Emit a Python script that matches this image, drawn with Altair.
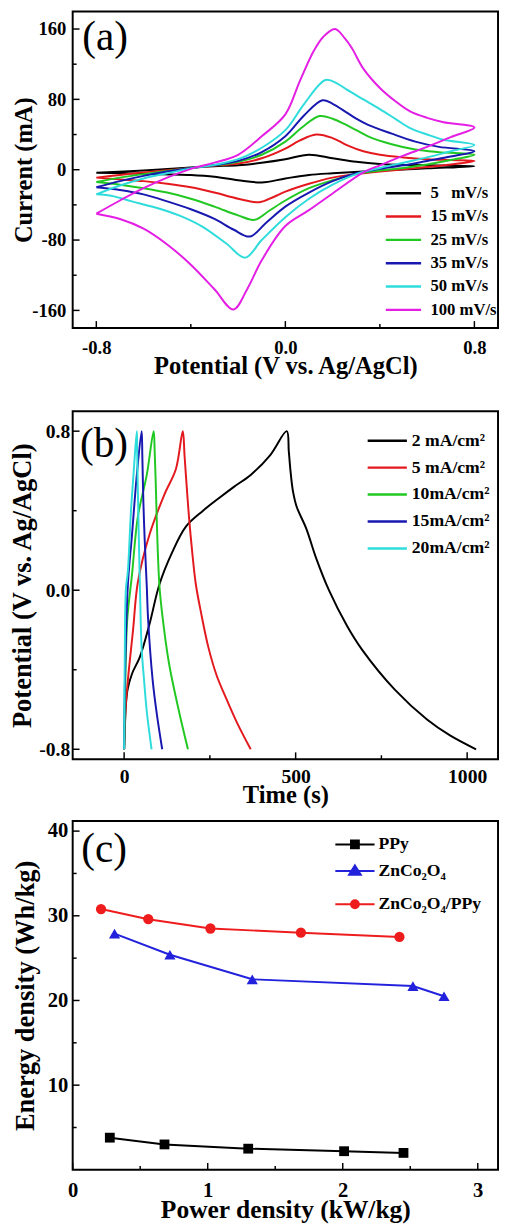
import altair as alt
import pandas as pd

FONT = "Liberation Serif"

# ---------------- panel (a): CV curves ----------------
cv_names = ["5\u2002 mV/s", "15 mV/s", "25 mV/s", "35 mV/s", "50 mV/s", "100 mV/s"]
cv_colors = ["#000000", "#e3191e", "#22c822", "#1818b0", "#2edcdc", "#e41ee4"]

cv5_v = [-0.8, -0.6, -0.4, -0.3, -0.2, -0.1, 0.0, 0.1, 0.2, 0.3, 0.4, 0.5, 0.6, 0.8,
         0.6, 0.4, 0.2, 0.1, 0.0, -0.1, -0.2, -0.3, -0.4, -0.6, -0.8]
cv5_i = [-3.5, -1, 2.5, 4, 5, 8, 12, 17, 13, 9, 6.5, 5.5, 5, 4,
         1.5, -1, -4, -6, -10, -14.5, -12, -8, -6, -4.5, -3.5]

cv15_v = [-0.8, -0.7, -0.6, -0.5, -0.4, -0.3, -0.2, -0.1, 0.0, 0.06, 0.13, 0.2, 0.26, 0.33, 0.4, 0.5, 0.6, 0.7, 0.8,
          0.7, 0.6, 0.5, 0.4, 0.3, 0.2, 0.1, 0.0, -0.05, -0.11, -0.2, -0.3, -0.4, -0.5, -0.6, -0.7, -0.8]
cv15_i = [-9, -6, -3, -0.5, 2, 4.5, 7, 13, 24, 33, 40, 36, 28, 21, 17, 14, 12, 11, 10,
          6, 3, 0.5, -2, -5, -9, -16, -25, -31, -37, -33, -26, -20, -16, -13, -11, -9]

cv25_v = [-0.8, -0.7, -0.6, -0.5, -0.4, -0.3, -0.2, -0.1, 0.0, 0.07, 0.145, 0.2, 0.25, 0.3, 0.35, 0.45, 0.55, 0.65, 0.8,
          0.7, 0.6, 0.5, 0.4, 0.3, 0.2, 0.1, 0.0, -0.07, -0.13, -0.2, -0.3, -0.4, -0.5, -0.6, -0.7, -0.8]
cv25_i = [-14, -9, -5, -1.5, 2, 5, 9, 17, 32, 48, 61, 58, 52, 45, 38, 29, 23, 20, 17,
          11, 6, 2, -1, -5, -12, -21, -35, -47, -57, -52, -42, -33, -26, -21, -17, -14]

cv35_v = [-0.8, -0.7, -0.6, -0.5, -0.4, -0.3, -0.2, -0.1, 0.0, 0.08, 0.157, 0.2, 0.26, 0.3, 0.35, 0.45, 0.55, 0.65, 0.8,
          0.7, 0.6, 0.5, 0.4, 0.3, 0.2, 0.1, 0.0, -0.08, -0.15, -0.22, -0.3, -0.4, -0.5, -0.6, -0.7, -0.8]
cv35_i = [-20, -13, -7, -2, 2, 5, 10, 20, 38, 62, 79, 75, 65, 58, 51, 41, 32, 26, 21,
          15, 10, 5, 1, -4, -13, -26, -42, -60, -76, -68, -56, -45, -36, -28, -23, -20]

cv50_v = [-0.8, -0.7, -0.6, -0.5, -0.4, -0.3, -0.2, -0.1, 0.0, 0.08, 0.17, 0.22, 0.26, 0.33, 0.4, 0.47, 0.53, 0.6, 0.67, 0.8,
          0.7, 0.6, 0.5, 0.4, 0.3, 0.2, 0.1, 0.0, -0.1, -0.17, -0.25, -0.35, -0.45, -0.55, -0.65, -0.73, -0.8]
cv50_i = [-28, -18, -10, -4, 1.5, 5.5, 12, 25, 45, 75, 102, 98, 91, 80, 69, 57, 47, 40, 34, 28,
          21, 14, 8, 2, -5, -17, -33, -54, -80, -100, -84, -65, -52, -43, -36, -30, -28]

cv100_v = [-0.8, -0.7, -0.6, -0.5, -0.4, -0.3, -0.2, -0.1, 0.0, 0.06, 0.12, 0.16, 0.21, 0.25, 0.28, 0.33, 0.4, 0.47, 0.53, 0.6, 0.67, 0.8,
           0.7, 0.6, 0.5, 0.4, 0.33, 0.2, 0.1, 0.0, -0.1, -0.16, -0.22, -0.3, -0.4, -0.5, -0.6, -0.7, -0.8]
cv100_i = [-50, -35, -21, -9, 1, 8, 17, 38, 63, 100, 135, 151, 160, 150, 139, 115, 93, 77, 66, 59, 54, 48,
           37, 26, 16, 5, -3, -27, -46, -64, -103, -135, -159, -136, -108, -85, -67, -56, -50]

a_yticks_major = [-160, -80, 0, 80, 160]
a_yticks_minor = [-120, -40, 40, 120]
a_xticks_major = [-0.8, 0.0, 0.8]
a_xticks_minor = [-0.4, 0.4]

# ---------------- panel (b): GCD curves ----------------
gcd_names = ["2 mA/cm\u00b2", "5 mA/cm\u00b2", "10mA/cm\u00b2", "15mA/cm\u00b2", "20mA/cm\u00b2"]
gcd_colors = ["#000000", "#e3191e", "#22c822", "#1818b0", "#2edcdc"]

gcd2_t = [0, 2, 5, 10, 23, 46, 74, 103, 140, 180, 230, 274, 320, 369, 426, 474,
          480, 485, 492, 503, 531, 560, 597, 650, 694, 789, 883, 950, 1026]
gcd2_v = [-0.8, -0.7, -0.58, -0.5, -0.42, -0.335, -0.17, 0.03, 0.19, 0.32, 0.4, 0.46, 0.52, 0.58, 0.68, 0.8,
          0.7, 0.6, 0.5, 0.42, 0.31, 0.16, 0.0, -0.18, -0.3, -0.5, -0.65, -0.73, -0.8]

gcd5_t = [0, 4, 11, 26, 40, 74, 117, 151, 171, 176, 180, 189, 198, 209, 225, 246, 270, 294, 330, 369]
gcd5_v = [-0.8, -0.6, -0.45, -0.2, 0.04, 0.28, 0.48, 0.61, 0.8, 0.68, 0.58, 0.37, 0.2, 0.03, -0.12, -0.29, -0.43, -0.53, -0.67, -0.8]

gcd10_t = [0, 3, 9, 23, 40, 66, 86, 89, 92, 97, 103, 111, 131, 160, 186]
gcd10_v = [-0.8, -0.5, -0.15, 0.08, 0.37, 0.58, 0.8, 0.7, 0.55, 0.25, 0.02, -0.12, -0.37, -0.61, -0.8]

gcd15_t = [0, 3, 11, 23, 37, 51, 53, 56, 60, 66, 70, 83, 95, 111]
gcd15_v = [-0.8, -0.4, 0.03, 0.28, 0.58, 0.8, 0.68, 0.45, 0.25, 0.02, -0.15, -0.45, -0.62, -0.8]

gcd20_t = [0, 2, 5, 11, 20, 30, 37, 38, 40, 43, 46, 51, 58, 66, 80]
gcd20_v = [-0.8, -0.3, 0.0, 0.1, 0.4, 0.65, 0.8, 0.7, 0.5, 0.25, 0.02, -0.29, -0.45, -0.61, -0.8]

b_yticks_major = [-0.8, 0.0, 0.8]
b_yticks_minor = [-0.4, 0.4]
b_xticks_major = [0, 500, 1000]
b_xticks_minor = [250, 750]

# ---------------- panel (c): Ragone ----------------
rag_names = ["PPy", "ZnCo\u2082O\u2084", "ZnCo\u2082O\u2084/PPy"]
rag_colors = ["#000000", "#2222dd", "#ee1c1c"]
ppy_p = [0.275, 0.68, 1.30, 2.01, 2.45]
ppy_e = [3.8, 3.0, 2.5, 2.2, 2.0]
zco_p = [0.31, 0.72, 1.33, 2.52, 2.75]
zco_e = [27.9, 25.4, 22.5, 21.7, 20.5]
zcop_p = [0.21, 0.56, 1.02, 1.69, 2.42]
zcop_e = [30.8, 29.6, 28.5, 28.0, 27.5]

c_yticks_major = [10, 20, 30, 40]
c_yticks_minor = [5, 15, 25, 35]
c_xticks_major = [0, 1, 2, 3]
c_xticks_minor = [0.5, 1.5, 2.5]

W = 434
LINE_SYMBOL = "M-3,0H3"


def neg_expr(fmt):
    return ("datum.value < 0 ? '-' + format(-datum.value, '%s') : format(datum.value, '%s')" % (fmt, fmt))


def axis(title, values, lfs, tfs, lpad, tpad, fmt):
    return alt.Axis(title=title, values=values, labelExpr=neg_expr(fmt),
                    labelFont=FONT, labelFontSize=lfs, labelFontWeight="bold", labelColor="black",
                    titleFont=FONT, titleFontSize=tfs, titleFontWeight="bold", titleColor="black",
                    ticks=False, domain=False, grid=False, labelPadding=lpad, titlePadding=tpad,
                    labelFlush=False, labelOverlap=False)


def xticks(vals, scale, ax, H, length):
    return alt.Chart(pd.DataFrame({"t": vals})).mark_rule(color="black", strokeWidth=1.5).encode(
        x=alt.X("t:Q", scale=scale, axis=ax), y=alt.value(H), y2=alt.value(H - length))


def yticks(vals, scale, ax, length):
    return alt.Chart(pd.DataFrame({"t": vals})).mark_rule(color="black", strokeWidth=1.5).encode(
        y=alt.Y("t:Q", scale=scale, axis=ax), x=alt.value(0), x2=alt.value(length))


def tag(s, x, y):
    return alt.Chart(pd.DataFrame({"s": [s]})).mark_text(
        font=FONT, fontSize=42, align="center", baseline="middle", color="black").encode(
        x=alt.value(x), y=alt.value(y), text="s:N")


def legend(x, y, fs, rowpad, size, lo):
    return alt.Legend(orient="none", legendX=x, legendY=y, title=None, symbolType=LINE_SYMBOL,
                      symbolSize=size, symbolStrokeWidth=2.5, labelFont=FONT, labelFontSize=fs,
                      labelFontWeight="bold", labelColor="black", rowPadding=rowpad, labelOffset=lo,
                      padding=0)


# ---- build panel (a)
Ha = 323
rows = []
for name, v, i in zip(cv_names, [cv5_v, cv15_v, cv25_v, cv35_v, cv50_v, cv100_v],
                      [cv5_i, cv15_i, cv25_i, cv35_i, cv50_i, cv100_i]):
    for k, (vv, ii) in enumerate(zip(v, i)):
        rows.append({"series": name, "V": vv, "I": ii, "k": k})
dfa = pd.DataFrame(rows)
xa = alt.Scale(domain=[-0.9, 0.9], nice=False, zero=False)
ya = alt.Scale(domain=[-180, 180], nice=False, zero=False)
ax_xa = axis("Potential (V vs. Ag/AgCl)", a_xticks_major, 19, 25, 11, -4, ".1f")
ax_ya = axis("Current (mA)", a_yticks_major, 19, 25, 7, -5, "d")
lines_a = alt.Chart(dfa).mark_line(strokeWidth=2, interpolate="catmull-rom").encode(
    x=alt.X("V:Q", scale=xa, axis=ax_xa),
    y=alt.Y("I:Q", scale=ya, axis=ax_ya),
    color=alt.Color("series:N", scale=alt.Scale(domain=cv_names, range=cv_colors),
                    legend=legend(329, 177, 17, 5.8, 144, 19)),
    order=alt.Order("k:Q"),
)
panel_a = alt.layer(
    lines_a,
    xticks(a_xticks_major, xa, ax_xa, Ha, 7), xticks(a_xticks_minor, xa, ax_xa, Ha, 4),
    yticks(a_yticks_major, ya, ax_ya, 7), yticks(a_yticks_minor, ya, ax_ya, 4),
    tag("(a)", 33, 26),
).properties(width=W, height=Ha)

# ---- build panel (b)
Hb = 355
rows = []
for name, t, v in zip(gcd_names, [gcd2_t, gcd5_t, gcd10_t, gcd15_t, gcd20_t],
                      [gcd2_v, gcd5_v, gcd10_v, gcd15_v, gcd20_v]):
    for k, (tt, vv) in enumerate(zip(t, v)):
        rows.append({"series": name, "t": tt, "V": vv, "k": k})
dfb = pd.DataFrame(rows)
xb = alt.Scale(domain=[-150, 1090], nice=False, zero=False)
yb = alt.Scale(domain=[-0.85, 0.9], nice=False, zero=False)
ax_xb = axis("Time (s)", b_xticks_major, 20, 25, 8, -4, "d")
ax_yb = axis("Potential (V vs. Ag/AgCl)", b_yticks_major, 20, 27, 3, 2, ".1f")
lines_b = alt.Chart(dfb).mark_line(strokeWidth=2, interpolate="catmull-rom").encode(
    x=alt.X("t:Q", scale=xb, axis=ax_xb),
    y=alt.Y("V:Q", scale=yb, axis=ax_yb),
    color=alt.Color("series:N", scale=alt.Scale(domain=gcd_names, range=gcd_colors),
                    legend=legend(312, 21, 18, 9.5, 178, 16)),
    order=alt.Order("k:Q"),
)
panel_b = alt.layer(
    lines_b,
    xticks(b_xticks_major, xb, ax_xb, Hb, 7), xticks(b_xticks_minor, xb, ax_xb, Hb, 4),
    yticks(b_yticks_major, yb, ax_yb, 7), yticks(b_yticks_minor, yb, ax_yb, 4),
    tag("(b)", 32, 34),
).properties(width=W, height=Hb)

# ---- build panel (c)
Hc = 356
xc = alt.Scale(domain=[0, 3.15], nice=False, zero=False)
yc = alt.Scale(domain=[0, 41.2], nice=False, zero=False)
ax_xc = axis("Power density (kW/kg)", c_xticks_major, 21, 26, 10, -3, "d")
ax_yc = axis("Energy density (Wh/kg)", c_yticks_major, 21, 27, 5, 8, "d")

paths = [
    "M-1,0H1M-0.2,-0.2H0.2V0.2H-0.2Z",
    "M-1,0H1M0,-0.28L0.3,0.2H-0.3Z",
    "M-1,0H1M0.2,0A0.2,0.2,0,1,1,-0.2,0A0.2,0.2,0,1,1,0.2,0Z",
]
shapes = ["square", "triangle-up", "circle"]
sizes = [100, 130, 110]
leg_y = [3, 30, 64]
c_layers = []
for name, col, p, e, shp, sz, path, ly in zip(rag_names, rag_colors, [ppy_p, zco_p, zcop_p],
                                              [ppy_e, zco_e, zcop_e], shapes, sizes, paths, leg_y):
    df = pd.DataFrame({"P": p, "E": e, "series": name})
    X = alt.X("P:Q", scale=xc, axis=ax_xc)
    Y = alt.Y("E:Q", scale=yc, axis=ax_yc)
    c_layers.append(alt.Chart(df).mark_line(color=col, strokeWidth=2).encode(x=X, y=Y))
    c_layers.append(alt.Chart(df).mark_point(shape=shp, filled=True, size=sz, opacity=1).encode(
        x=X, y=Y,
        color=alt.Color("series:N", scale=alt.Scale(domain=[name], range=[col]),
                        legend=alt.Legend(orient="none", legendX=267, legendY=ly, title=None,
                                          symbolType=path, symbolSize=1600, symbolStrokeColor=col,
                                          symbolStrokeWidth=2, symbolOpacity=1, labelFont=FONT,
                                          labelFontSize=18, labelFontWeight="bold", labelColor="black",
                                          labelOffset=3, padding=0))))
panel_c = alt.layer(
    *c_layers,
    xticks(c_xticks_major, xc, ax_xc, Hc, 7), xticks(c_xticks_minor, xc, ax_xc, Hc, 4),
    yticks(c_yticks_major, yc, ax_yc, 7), yticks(c_yticks_minor, yc, ax_yc, 4),
    tag("(c)", 32, 29),
).resolve_scale(color="independent").properties(width=W, height=Hc)

chart = alt.vconcat(
    alt.vconcat(panel_a, panel_b, spacing=32).resolve_scale(color="independent"),
    panel_c, spacing=11,
).resolve_scale(color="independent").properties(
    padding={"left": 0, "top": -10, "right": 0, "bottom": 0}
).configure_view(stroke="black", strokeWidth=2)

chart.save("out.html", embed_options={"renderer": "svg", "actions": False})
